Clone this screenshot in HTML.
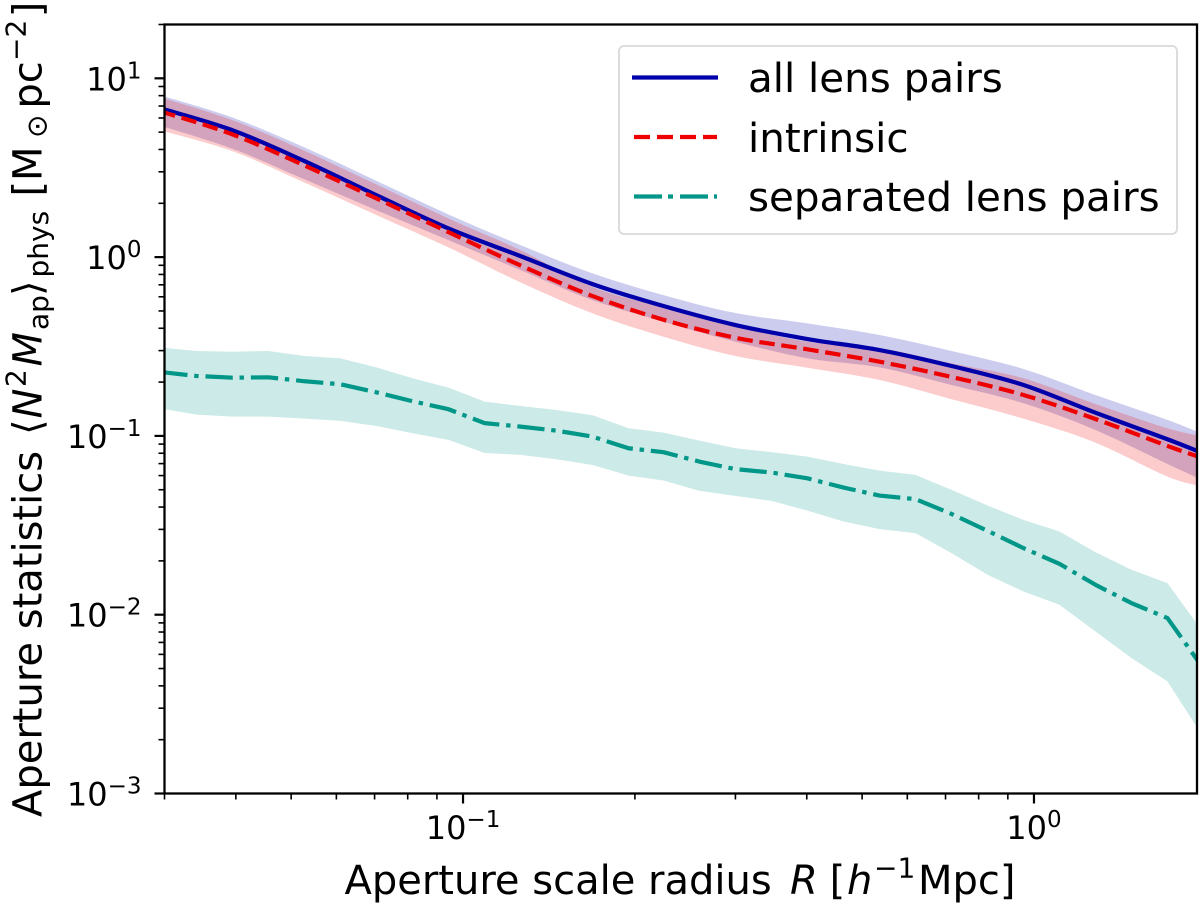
<!DOCTYPE html>
<html lang="en">
<head>
<meta charset="utf-8">
<title>Aperture statistics chart</title>
<style>
html,body{margin:0;padding:0;background:#fff;width:1200px;height:904px;overflow:hidden}
svg{display:block}
text{font-family:"DejaVu Sans","Liberation Sans",sans-serif;fill:#000}
</style>
</head>
<body>
<svg id="chart" xmlns="http://www.w3.org/2000/svg" width="1200" height="904" viewBox="0 0 1200 904">
  <defs><clipPath id="plot-clip"><rect x="164.5" y="24.5" width="1032.5" height="769"/></clipPath></defs>
  <g id="bands" clip-path="url(#plot-clip)"></g>
  <g id="lines" clip-path="url(#plot-clip)"></g>
  <g id="ticks"></g>
  <rect x="164.5" y="24.5" width="1032.5" height="769" fill="none" stroke="#000" stroke-width="2.3"/>
  <text y="894" font-size="40"><tspan x="344.5">Aperture scale radius </tspan><tspan x="790" font-style="italic">R</tspan><tspan x="829.6">[</tspan><tspan x="847" font-style="italic">h</tspan><tspan x="874" y="877.3" font-size="28">−1</tspan><tspan x="918" y="894">Mpc]</tspan></text>
  <text transform="translate(41.7,0) rotate(-90)" y="0" font-size="40"><tspan x="-817" y="0">Aperture statistics</tspan><tspan x="-435" y="0">⟨</tspan><tspan x="-418.5" y="0" font-style="italic">N</tspan><tspan x="-387" y="-16" font-size="28">2</tspan><tspan x="-366.5" y="0" font-style="italic">M</tspan><tspan x="-330" y="6.5" font-size="28">ap</tspan><tspan x="-296" y="0">⟩</tspan><tspan x="-277.5" y="6.5" font-size="28">phys</tspan><tspan x="-196.5" y="0">[</tspan><tspan x="-181" y="0">M</tspan><tspan x="-138" y="5" font-size="28">⊙</tspan><tspan x="-108.6" y="0">pc</tspan><tspan x="-61" y="-16" font-size="28">−2</tspan><tspan x="-17.2" y="0">]</tspan></text>
  <g>
    <rect x="619" y="46" width="558" height="188" rx="5" ry="5" fill="#fff" fill-opacity="0.8" stroke="#d9d9d9" stroke-width="1.8"/>
    <line x1="632" y1="77.5" x2="718" y2="77.5" stroke="#0000aa" stroke-width="4.2"/>
    <text x="748" y="92" font-size="40.4">all lens pairs</text>
    <line x1="634" y1="137" x2="717" y2="137" stroke="#ee0000" stroke-width="4.2" stroke-dasharray="16 7"/>
    <text x="748" y="152" font-size="40.4">intrinsic</text>
    <line x1="634" y1="196.5" x2="717" y2="196.5" stroke="#009688" stroke-width="4.2" stroke-dasharray="28 6 5 7"/>
    <text x="748" y="211" font-size="40.4">separated lens pairs</text>
  </g>
</svg>
<script>
const radiusFine = [0.0295,0.0341,0.0395,0.0456,0.0528,0.0610,0.0705,0.0816,0.0943,0.1091,0.1261,0.1458,0.1686,0.1949,0.2244,0.2596,0.3000,0.3470,0.4011,0.4639,0.5364,0.6202,0.7171,0.8291,0.9585,1.108,1.281,1.481,1.713,1.981];
const radiusCoarse = [0.0295,0.0395,0.0528,0.0705,0.0943,0.1261,0.1686,0.2244,0.3000,0.4011,0.5364,0.7171,0.9585,1.281,1.713,1.981];

const allLensMean = [6.80,5.12,3.44,2.22,1.446,1.013,0.7066,0.5326,0.4170,0.3483,0.3022,0.2460,0.1927,0.1349,0.0958,0.0798];
const allLensUpper = [8.04,6.03,4.10,2.67,1.732,1.167,0.811,0.6133,0.4865,0.4261,0.3667,0.2985,0.2368,0.1694,0.1229,0.1019];
const allLensLower = [5.43,4.03,2.72,1.83,1.245,0.846,0.575,0.4351,0.3363,0.2716,0.2419,0.1927,0.1523,0.1080,0.0697,0.0564];

const intrinsicMean = [6.54,4.85,3.25,2.13,1.380,0.8987,0.6054,0.4464,0.3541,0.3050,0.2600,0.2136,0.1694,0.1244,0.0879,0.0749];
const intrinsicUpper = [7.83,5.83,3.93,2.55,1.645,1.094,0.680,0.5236,0.4116,0.3363,0.3102,0.2548,0.2100,0.1509,0.1104,0.0992];
const intrinsicLower = [5.12,3.91,2.61,1.72,1.133,0.722,0.4847,0.3586,0.2798,0.2407,0.2055,0.1603,0.1249,0.0917,0.0592,0.0519];

const separatedMean = [0.2278,0.2164,0.2117,0.2127,0.2021,0.1945,0.1754,0.1562,0.1410,0.1179,0.1127,0.1070,0.0991,0.0853,0.0811,0.0718,0.0652,0.0624,0.0579,0.0514,0.0464,0.0443,0.0366,0.02946,0.02358,0.01926,0.01471,0.01162,0.00958,0.00499];
const separatedUpper = [0.3122,0.2985,0.2958,0.2985,0.2798,0.2716,0.2419,0.2100,0.1861,0.1554,0.1471,0.1397,0.1305,0.1104,0.1043,0.0941,0.0853,0.0811,0.0766,0.0697,0.0640,0.0605,0.0499,0.0408,0.0339,0.0292,0.0224,0.01784,0.01503,0.00793];
const separatedLower = [0.1424,0.1315,0.1282,0.1282,0.1249,0.1213,0.1137,0.1035,0.0950,0.0803,0.0783,0.0741,0.0688,0.0600,0.0563,0.0493,0.0462,0.0433,0.0382,0.0332,0.0301,0.0286,0.0221,0.01673,0.01349,0.01137,0.00807,0.00573,0.00424,0.00206];

const xMajorTicks = [0.1,1];
const xMajorExponents = ["−1","0"];
const xMinorTicks = [0.03,0.04,0.05,0.06,0.07,0.08,0.09,0.2,0.3,0.4,0.5,0.6,0.7,0.8,0.9];
const yMajorTicks = [10,1,0.1,0.01,0.001];
const yMajorExponents = ["1","0","−1","−2","−3"];
const yMinorTicks = [20,9,8,7,6,5,4,3,2,0.9,0.8,0.7,0.6,0.5,0.4,0.3,0.2,0.09,0.08,0.07,0.06,0.05,0.04,0.03,0.02,0.009,0.008,0.007,0.006,0.005,0.004,0.003,0.002];

const plotLeft = 164.5, plotRight = 1197, plotTop = 24.5, plotBottom = 793.5;
const xDomain = [0.03,1.93], yDomain = [0.001,20];
function xScale(v){
  return plotLeft + (Math.log10(v)-Math.log10(xDomain[0])) / (Math.log10(xDomain[1])-Math.log10(xDomain[0])) * (plotRight-plotLeft);
}
function yScale(v){
  return plotBottom - (Math.log10(v)-Math.log10(yDomain[0])) / (Math.log10(yDomain[1])-Math.log10(yDomain[0])) * (plotBottom-plotTop);
}
const NS = "http://www.w3.org/2000/svg";
function coords(xs,ys){ return xs.map((x,i)=>[xScale(x),yScale(ys[i])]); }
function straight(p){ return p.map(c=>c[0].toFixed(2)+" "+c[1].toFixed(2)).join(" L "); }
function smooth(p){
  let d = p[0][0].toFixed(2)+" "+p[0][1].toFixed(2);
  for(let i=0;i<p.length-1;i++){
    const a=p[Math.max(i-1,0)], b=p[i], c=p[i+1], e=p[Math.min(i+2,p.length-1)];
    const c1=[b[0]+(c[0]-a[0])/6,b[1]+(c[1]-a[1])/6];
    const c2=[c[0]-(e[0]-b[0])/6,c[1]-(e[1]-b[1])/6];
    d+=" C "+c1[0].toFixed(2)+" "+c1[1].toFixed(2)+" "+c2[0].toFixed(2)+" "+c2[1].toFixed(2)+" "+c[0].toFixed(2)+" "+c[1].toFixed(2);
  }
  return d;
}

const bandsG = document.getElementById("bands");
const linesG = document.getElementById("lines");
const ticksG = document.getElementById("ticks");

function addBand(name,xs,up,lo,color,curved){
  const p = document.createElementNS(NS,"path");
  const build = curved ? smooth : straight;
  const top = coords(xs,up), bot = coords(xs,lo).reverse();
  p.setAttribute("d","M "+build(top)+" L "+build(bot)+" Z");
  p.setAttribute("fill",color);
  p.setAttribute("fill-opacity","0.2");
  
  
  bandsG.appendChild(p);
}
function addLine(name,xs,ys,color,dash,curved){
  const p = document.createElementNS(NS,"path");
  const build = curved ? smooth : straight;
  p.setAttribute("d","M "+build(coords(xs,ys)));
  p.setAttribute("fill","none");
  p.setAttribute("stroke",color);
  p.setAttribute("stroke-width","4.2");
  p.setAttribute("stroke-linejoin","round");
  if(dash) p.setAttribute("stroke-dasharray",dash);
  
  
  linesG.appendChild(p);
}
addBand("all-lens-pairs-band",radiusCoarse,allLensUpper,allLensLower,"#0000aa",true);
addBand("intrinsic-band",radiusCoarse,intrinsicUpper,intrinsicLower,"#ee0000",true);
addBand("separated-lens-pairs-band",radiusFine,separatedUpper,separatedLower,"#009688",false);
addLine("all-lens-pairs-line",radiusCoarse,allLensMean,"#0000aa",null,true);
addLine("intrinsic-line",radiusCoarse,intrinsicMean,"#ee0000","15.5 6.7",true);
addLine("separated-lens-pairs-line",radiusFine,separatedMean,"#009688","27.3 6.8 4.4 6.9",false);

function addTick(name,x1,y1,x2,y2,w){
  const l = document.createElementNS(NS,"line");
  l.setAttribute("x1",x1); l.setAttribute("y1",y1);
  l.setAttribute("x2",x2); l.setAttribute("y2",y2);
  l.setAttribute("stroke","#000"); l.setAttribute("stroke-width",w);
  
  
  ticksG.appendChild(l);
}
function addPowerLabel(name,x,y,anchor,exp){
  const t = document.createElementNS(NS,"text");
  t.setAttribute("x",x); t.setAttribute("y",y);
  t.setAttribute("font-size","32");
  t.setAttribute("text-anchor",anchor);
  
  
  const b = document.createElementNS(NS,"tspan");
  b.textContent = "10";
  const s = document.createElementNS(NS,"tspan");
  s.setAttribute("font-size","23");
  s.setAttribute("dy","-12");
  s.textContent = exp;
  t.appendChild(b); t.appendChild(s);
  ticksG.appendChild(t);
}
xMinorTicks.forEach(v=>{ const x=xScale(v); addTick("x-minor-tick",x,plotBottom,x,plotBottom+6,1.6); });
xMajorTicks.forEach((v,i)=>{
  const x=xScale(v);
  addTick("x-major-tick",x,plotBottom,x,plotBottom+10,2.2);
  addPowerLabel("x-tick-label",x,839,"middle",xMajorExponents[i]);
});
yMinorTicks.forEach(v=>{ const y=yScale(v); addTick("y-minor-tick",plotLeft-6,y,plotLeft,y,1.6); });
yMajorTicks.forEach((v,i)=>{
  const y=yScale(v);
  addTick("y-major-tick",plotLeft-10,y,plotLeft,y,2.2);
  addPowerLabel("y-tick-label",141.5,y+12,"end",yMajorExponents[i]);
});
</script>
</body>
</html>
